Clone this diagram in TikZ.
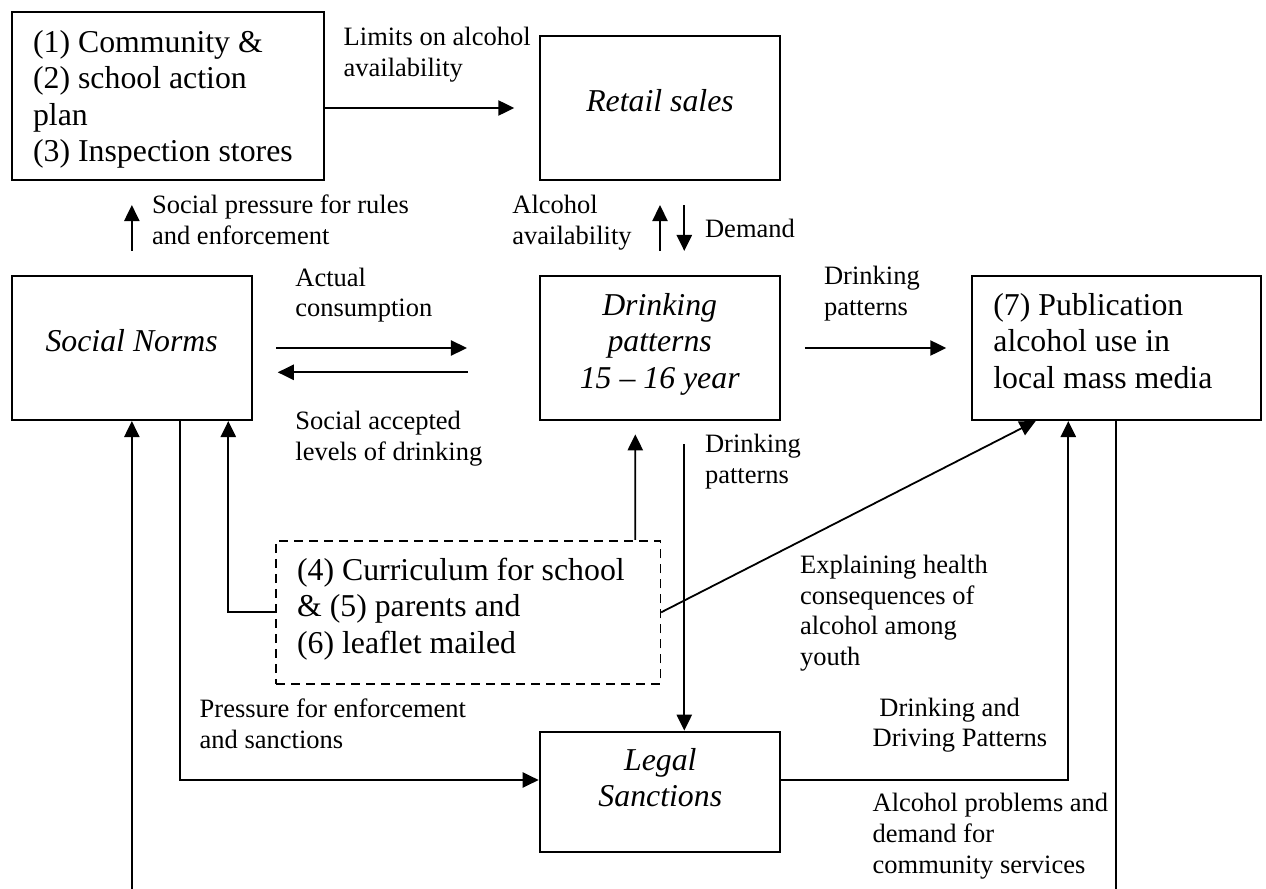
\documentclass[tikz,border=0pt]{standalone}
\usepackage{fontspec}
\setmainfont{Liberation Serif}
\usetikzlibrary{arrows.meta,calc}
\tikzset{
  box/.style={draw, line width=1.05pt, rectangle, inner sep=0pt},
  dbox/.style={draw, line width=0.8pt, dash pattern=on 4.5pt off 3pt, rectangle, inner sep=0pt},
  con/.style={line width=0.9pt},
  arr/.style={con, -{Triangle[length=8pt,width=7.6pt]}},
  % text nodes are placed by the baseline of their last line
  lbl/.style={inner sep=0pt, anchor=base west, align=left, font=\fontsize{13.25}{15.35}\selectfont},
  btxt/.style={inner sep=0pt, anchor=base west, align=left, font=\fontsize{15.9}{18.25}\selectfont},
  itxt/.style={inner sep=0pt, anchor=base, align=center, font=\fontsize{15.9}{18.25}\selectfont\itshape},
}
\begin{document}
\begin{tikzpicture}[x=0.5pt,y=-0.5pt]
\useasboundingbox (0,0) rectangle (1266,889);

% boxes
\node[box, minimum width=156.15pt, minimum height=83.85pt] (comm)   at (167.85,96.15) {};
\node[box, minimum width=120.3pt,  minimum height=72pt]    (retail) at (660,108) {};
\node[box, minimum width=120.15pt, minimum height=72pt]    (norms)  at (131.85,348) {};
\node[box, minimum width=120.3pt,  minimum height=72pt]    (drink)  at (660,348) {};
\node[box, minimum width=144.5pt,  minimum height=72pt]    (pub)    at (1116.2,348) {};
\node[dbox, minimum width=192.15pt, minimum height=71.65pt] (curr)  at (468.15,612.35) {};
\node[box, minimum width=120.3pt,  minimum height=60.3pt]  (legal)  at (660,792) {};

% box texts
\node[btxt] (commtxt) at (32.7,161.7) {(1) Community \&\\(2) school action\\plan\\(3) Inspection stores};
\node[itxt] (retailtxt) at (660,111.7) {Retail sales};
\node[itxt] (normstxt) at (131.7,351.7) {Social Norms};
\node[itxt] (drinktxt) at (659.7,388.3) {Drinking\\patterns\\15 – 16 year};
\node[btxt] (pubtxt) at (993,388.3) {(7) Publication\\alcohol use in\\local mass media};
\node[btxt] (currtxt) at (296.7,653.3) {(4) Curriculum for school\\\& (5) parents and\\(6) leaflet mailed};
\node[itxt] (legaltxt) at (660.3,806.7) {Legal\\Sanctions};

% connector labels
\node[lbl] (lim) at (343.3,76) {Limits on alcohol\\availability};
\node[lbl] (spr) at (151.7,244) {Social pressure for rules\\and enforcement};
\node[lbl] (aav) at (512,244) {Alcohol\\availability};
\node[lbl] (dem) at (704.7,237.3) {Demand};
\node[lbl] (act) at (295,316.7) {Actual\\consumption};
\node[lbl] (sal) at (295,460) {Social accepted\\levels of drinking};
\node[lbl] (dpa) at (823.7,315) {Drinking\\patterns};
\node[lbl] (dpb) at (704.7,483) {Drinking\\patterns};
\node[lbl] (exh) at (799.7,665.5) {Explaining health\\consequences of\\alcohol among\\youth};
\node[lbl] (pfe) at (199.3,748.3) {Pressure for enforcement\\and sanctions};
\node[lbl] (ddp) at (872.3,746.7) {\hspace*{3.35pt}Drinking and\\Driving Patterns};
\node[lbl] (apd) at (872.3,873.3) {Alcohol problems and\\demand for\\community services};

% loose ends at the lower edge
\coordinate (lowA) at (131.85,889);
\coordinate (lowB) at (1116.2,889);

% connectors
\draw[arr] (comm.east |- retail.west) -- ($(retail.west)+(-24.4,0)$);
\draw[arr] ($(norms.north)+(0,-24)$) -- ($(norms.north |- comm.south)+(0,24)$);
\draw[arr] ($(drink.north)+(0,-24)$) -- ($(retail.south)+(0,24)$);
\draw[arr] ($(retail.south)+(24.3,24)$) -- ($(drink.north)+(24.3,-24)$);
\draw[arr] ($(norms.east)+(23,0)$) -- ($(drink.west)+(-71.7,0)$);
\draw[arr] ($(drink.west)+(-71,24.3)$) -- ($(norms.east)+(24.7,24.3)$);
\draw[arr] ($(drink.east)+(23.4,0)$) -- ($(pub.west)+(-24.4,0)$);
\draw[arr] ($(curr.north)+(167.15,0)$) -- ($(drink.south)+(-24.7,13.3)$);
\draw[arr] ($(drink.south)+(24.3,23.3)$) -- ($(legal.north)+(24.3,0)$);
\draw[arr] (curr.west) -| ($(norms.south)+(96.45,0)$);
\draw[arr] ($(norms.south)+(48.15,0)$) |- ($(legal.west)+(0,-12)$);
\draw[arr] ($(legal.east)+(0,-12)$) -| ($(pub.south)+(-47.9,0)$);
\draw[arr] (curr.east) -- ($(pub.south)+(-80.5,0)$);
\draw[arr] (lowA) -- (norms.south);
\draw[con] (pub.south) -- (lowB);
\end{tikzpicture}
\end{document}
